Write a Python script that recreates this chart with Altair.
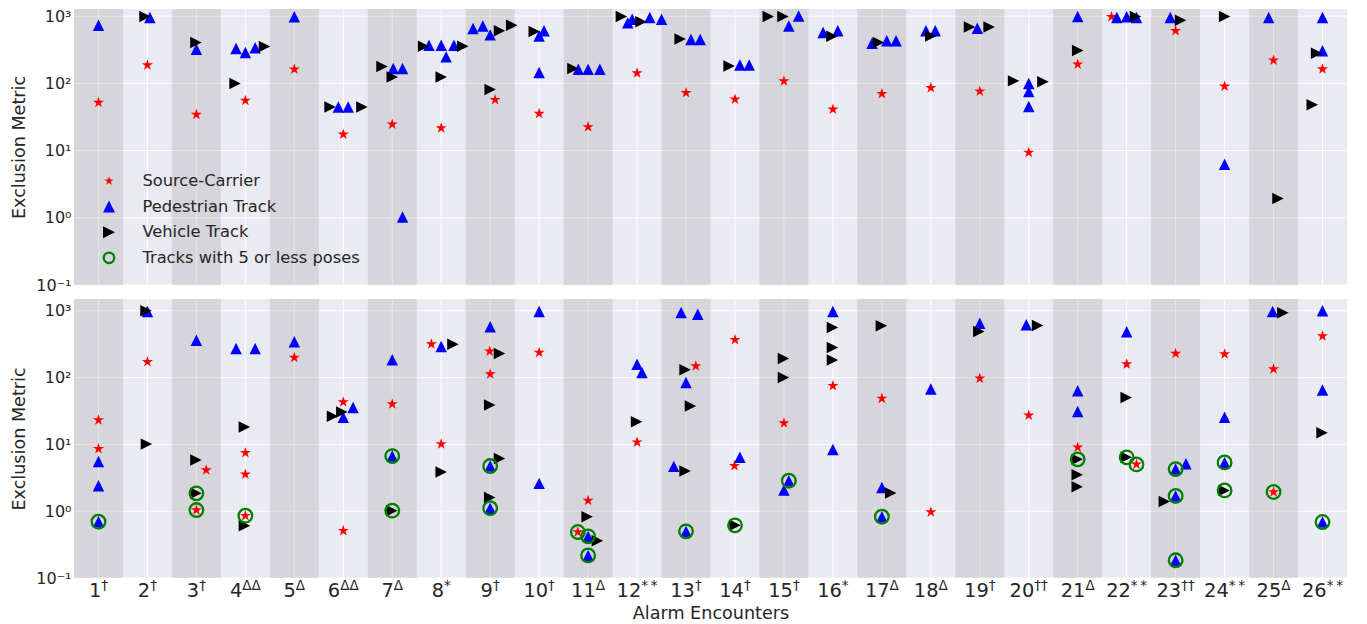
import altair as alt
import pandas as pd

FONT = "DejaVu Sans"
TEXT_COLOR = "#262626"

# ---------------- data ----------------
CATEGORIES = list(range(1, 27))
SUPERSCRIPTS = ["†", "†", "†", "ΔΔ", "Δ", "ΔΔ", "Δ", "*", "†", "†", "Δ", "**", "†",
                "†", "†", "*", "Δ", "Δ", "†", "††", "Δ", "**", "††", "**", "Δ", "**"]
Y_TICKS = [0.1, 1, 10, 100, 1000]
LEGEND_LABELS = ["Source-Carrier", "Pedestrian Track", "Vehicle Track",
                 "Tracks with 5 or less poses"]

# top panel
TOP_SRC_X = [1, 2, 3, 4, 5, 6, 7, 8, 9.1, 10, 11, 12, 13, 14, 15, 16, 17, 18, 19, 20,
             21, 21.69, 23, 24, 25, 26]
TOP_SRC_Y = [51.8, 188, 34.4, 55.5, 162, 17.5, 24.7, 21.7, 56.8, 35.6, 22.5, 143, 72.3,
             58, 108, 41.2, 69.9, 85.7, 76.4, 9.33, 193, 977, 604, 90.8, 221, 163]
TOP_PED_X = [1, 2.05, 3, 3.81, 4, 4.2, 5, 5.9, 6.1, 7.02, 7.21, 7.21, 7.75, 8, 8.1, 8.26,
             8.65, 8.85, 9, 10.1, 10, 10, 10.8, 11, 11.24, 11.81, 11.9, 12.26, 12.5,
             13.1, 13.29, 14.1, 14.29, 15.1, 15.3, 15.8, 16.1, 16.8, 17.1, 17.29, 17.9,
             18.09, 18.95, 20, 20, 20, 21, 21.8, 22, 22.2, 22.89, 24, 24.9, 26, 26]
TOP_PED_Y = [735, 955, 323, 330, 288, 338, 977, 44.7, 44.7, 166, 166, 1.03, 370, 370,
             248, 370, 655, 717, 527, 605, 509, 145, 162, 162, 162, 795, 902, 955, 902,
             449, 449, 188, 188, 717, 1010, 571, 605, 396, 430, 430, 605, 605, 662, 100,
             75.5, 45.2, 989, 955, 977, 955, 955, 6.27, 955, 955, 305]
TOP_VEH_X = [1.95, 2.99, 3.79, 4.39, 5.73, 6.38, 6.79, 7.0, 7.64, 8.0, 8.44, 9.19, 9.44,
             9.0, 9.9, 10.69, 11.68, 12.08, 12.88, 13.88, 14.68, 14.98, 15.98, 16.93,
             18.0, 18.79, 19.19, 19.69, 20.29, 21.0, 22.18, 23.1, 24.0, 25.09, 25.88,
             25.79]
TOP_VEH_Y = [990, 405, 99.6, 353, 44.7, 44.7, 178, 124, 357, 124, 357, 605, 735, 81, 592,
             166, 989, 824, 459, 182, 989, 989, 503, 405, 509, 693, 693, 109, 106, 308,
             989, 871, 989, 1.93, 281, 47.9]

# bottom panel
BOT_SRC_X = [1, 1, 2, 3.2, 3, 4, 4, 4, 5, 6, 6, 7, 7.8, 8, 8.99, 9, 10, 11, 10.79, 12,
             13.2, 14, 13.99, 15, 16, 17, 18, 19, 20, 21, 22, 22.2, 23, 24, 25, 25, 26]
BOT_SRC_Y = [23.1, 8.61, 173, 4.13, 1.04, 7.5, 3.56, 0.857, 200, 43, 0.511, 40.1, 317,
             10.1, 247, 113, 238, 1.44, 0.488, 10.8, 149, 368, 4.8, 20.9, 75.5, 48.8,
             0.97, 97.3, 27.2, 9.02, 159, 5.02, 230, 225, 134, 1.94, 418]
BOT_PED_X = [1, 1, 1, 2, 3, 3.81, 4.2, 5, 6, 6.2, 7, 7, 8, 9, 9, 9, 10, 10, 11, 11, 12,
             12.1, 12.9, 13.24, 13, 12.75, 13, 14.1, 15.1, 15, 16, 16, 17, 17, 18, 19,
             19.95, 21, 21, 22, 23, 23.21, 23, 23, 24, 24, 24.98, 26, 26, 26]
BOT_PED_Y = [5.57, 2.41, 0.697, 975, 364, 273, 273, 344, 25.4, 35.8, 185, 6.68, 292, 577,
             4.74, 1.11, 977, 2.61, 0.42, 0.218, 159, 119, 944, 892, 84.7, 4.69, 0.499,
             6.4, 2.86, 2.07, 977, 8.41, 2.27, 0.828, 67.3, 653, 617, 63.5, 31.2, 485,
             4.27, 5.14, 1.69, 0.184, 25.4, 5.38, 977, 1000, 65, 0.689]
BOT_VEH_X = [1.97, 1.98, 2.99, 2.99, 3.98, 3.98, 5.78, 5.97, 6.99, 8.24, 8.0, 9.19, 8.99,
             9.19, 8.99, 10.98, 11.19, 11.99, 12.98, 13.09, 12.98, 14.0, 14.99, 14.99,
             15.99, 15.99, 15.99, 16.99, 17.18, 18.98, 20.18, 20.99, 20.99, 20.99, 21.99,
             21.99, 22.77, 23.99, 25.19, 25.99]
BOT_VEH_Y = [1000, 10.1, 5.84, 1.85, 18.2, 0.607, 26.5, 30.5, 1.02, 317, 3.86, 230, 38.8,
             6.17, 1.61, 0.828, 0.362, 21.8, 131, 37.5, 3.99, 0.614, 194, 100, 563, 282,
             183, 597, 1.87, 491, 602, 5.97, 3.51, 2.33, 50.5, 6.4, 1.40, 2.05, 933, 15.0]
BOT_FEW_X = [1, 3, 3, 4, 7, 7, 9, 9, 10.79, 11, 11, 13, 14, 15.1, 17, 21, 22, 22.2, 23, 23,
             23, 24, 24, 25, 26]
BOT_FEW_Y = [0.697, 1.85, 1.04, 0.857, 6.68, 1.02, 4.74, 1.11, 0.488, 0.42, 0.218, 0.499,
             0.614, 2.86, 0.828, 5.97, 6.4, 5.02, 4.27, 1.69, 0.184, 5.38, 2.05, 1.94,
             0.689]

# ---------------- styling / layout ----------------
W = 1273
H_TOP = 276
H_BOT = 279
PX = W / 26.0
NUM_FS = 19.4
SUP_FS = 13.6

STAR = ("M0,-1L0.2245,-0.309L0.951,-0.309L0.363,0.118L0.588,0.809L0,0.382"
        "L-0.588,0.809L-0.363,0.118L-0.951,-0.309L-0.2245,-0.309Z")
TRI_UP = "M0,-1L1,1L-1,1Z"
TRI_RIGHT = "M1,0L-1,-1L-1,1Z"

XSCALE = alt.Scale(domain=[0.5, 26.5], nice=False, zero=False)
LABEL_EXPR = ("datum.value >= 1000 ? '10³' : datum.value >= 100 ? '10²' : "
              "datum.value >= 10 ? '10¹' : datum.value >= 1 ? '10⁰' : '10⁻¹'")


def df(xs, ys):
    return pd.DataFrame({"x": xs, "y": ys})


def panel(height, ytop, src, ped, veh, few, bottom, legend):
    ysc = alt.Scale(type="log", domain=[0.1, ytop], nice=False)
    yaxis = alt.Axis(values=Y_TICKS, labelExpr=LABEL_EXPR, grid=False, ticks=False,
                     domain=False, labelPadding=3, labelFontSize=16, labelFont=FONT,
                     labelColor=TEXT_COLOR, labelFlush=False, labelOverlap=False,
                     title="Exclusion Metric", titleFont=FONT, titleFontSize=17.6,
                     titleFontWeight="normal", titleColor=TEXT_COLOR, titlePadding=11,
                     minExtent=35, maxExtent=35)
    if bottom:
        xaxis = alt.Axis(labels=False, ticks=False, domain=False, grid=False,
                         title="Alarm Encounters", titleFont=FONT, titleFontSize=17.6,
                         titleFontWeight="normal", titleColor=TEXT_COLOR,
                         titlePadding=26, minExtent=0, maxExtent=0)
    else:
        xaxis = None

    def X(f):
        return alt.X(f"{f}:Q", scale=XSCALE, axis=xaxis)

    def Y(f):
        return alt.Y(f"{f}:Q", scale=ysc, axis=yaxis)

    cats = pd.DataFrame({"c": CATEGORIES})
    odd = pd.DataFrame({"x0": [c - 0.5 for c in CATEGORIES if c % 2 == 1],
                        "x1": [c + 0.5 for c in CATEGORIES if c % 2 == 1]})
    ticks = pd.DataFrame({"v": Y_TICKS})

    vgrid = alt.Chart(cats).mark_rule(color="white", strokeWidth=1).encode(x=X("c"))
    hgrid = alt.Chart(ticks).mark_rule(color="white", strokeWidth=1).encode(y=Y("v"))
    bands = alt.Chart(odd).mark_rect(color="grey", opacity=0.2).encode(
        x=X("x0"), x2="x1:Q", y=alt.value(0), y2=alt.value(height))

    def pts(data, shape, color, size, filled=True, sw=0):
        m = alt.Chart(data).mark_point(shape=shape, filled=filled, color=color, size=size,
                                       opacity=1, strokeWidth=sw)
        return m.encode(x=X("x"), y=Y("y"))

    layers = [vgrid, hgrid, bands,
              pts(src, STAR, "#ff0000", 135),
              pts(ped, TRI_UP, "#0000ff", 132),
              pts(veh, TRI_RIGHT, "#000000", 132)]
    if few is not None:
        layers.append(pts(few, "circle", "#008000", 185, filled=False, sw=2.3))

    if legend:
        specs = [(STAR, "#ff0000", 95, True, 0), (TRI_UP, "#0000ff", 144, True, 0),
                 (TRI_RIGHT, "#000000", 144, True, 0), ("circle", "#008000", 110, False, 2.3)]
        for i, (lab, (shape, color, size, filled, sw)) in enumerate(zip(LEGEND_LABELS, specs)):
            row = pd.DataFrame({"t": [lab]})
            yy = 172 + i * 25.6
            layers.append(alt.Chart(row).mark_point(
                shape=shape, color=color, size=size, filled=filled, opacity=1,
                strokeWidth=sw).encode(x=alt.value(35), y=alt.value(yy)))
            layers.append(alt.Chart(row).mark_text(
                align="left", baseline="middle", font=FONT, fontSize=16.3,
                color=TEXT_COLOR).encode(x=alt.value(68.4), y=alt.value(yy), text="t:N"))

    if bottom:
        sup_w = {"†": 0.5, "Δ": 0.684, "*": 0.5, "\u2009": 0.2}
        rows = []
        for c, s in zip(CATEGORIES, SUPERSCRIPTS):
            s_disp = s.replace("**", "*\u2009*")
            wn = len(str(c)) * 0.636 * NUM_FS
            ws = sum(sup_w[ch] for ch in s_disp) * SUP_FS
            left = c - (wn + ws) / 2.0 / PX
            rows.append({"nx": left, "num": str(c), "sx": left + wn / PX, "sup": s_disp})
        lab = pd.DataFrame(rows)
        layers.append(alt.Chart(lab).mark_text(
            align="left", baseline="alphabetic", font=FONT, fontSize=NUM_FS,
            color=TEXT_COLOR).encode(x=X("nx"), y=alt.value(height + 19.2), text="num:N"))
        layers.append(alt.Chart(lab).mark_text(
            align="left", baseline="alphabetic", font=FONT, fontSize=SUP_FS,
            color=TEXT_COLOR).encode(x=X("sx"), y=alt.value(height + 11.8), text="sup:N"))

    return alt.layer(*layers).properties(width=W, height=height)


top = panel(H_TOP, 1279, df(TOP_SRC_X, TOP_SRC_Y), df(TOP_PED_X, TOP_PED_Y),
            df(TOP_VEH_X, TOP_VEH_Y), None, bottom=False, legend=True)
bot = panel(H_BOT, 1503, df(BOT_SRC_X, BOT_SRC_Y), df(BOT_PED_X, BOT_PED_Y),
            df(BOT_VEH_X, BOT_VEH_Y), df(BOT_FEW_X, BOT_FEW_Y), bottom=True, legend=False)

chart = alt.vconcat(top, bot, spacing=14, bounds="flush").properties(
    padding={"left": 2, "top": 0, "right": 0, "bottom": 0}
).configure_view(fill="#EAEAF2", stroke=None)

chart.save("out.html", embed_options={"renderer": "svg", "actions": False})
